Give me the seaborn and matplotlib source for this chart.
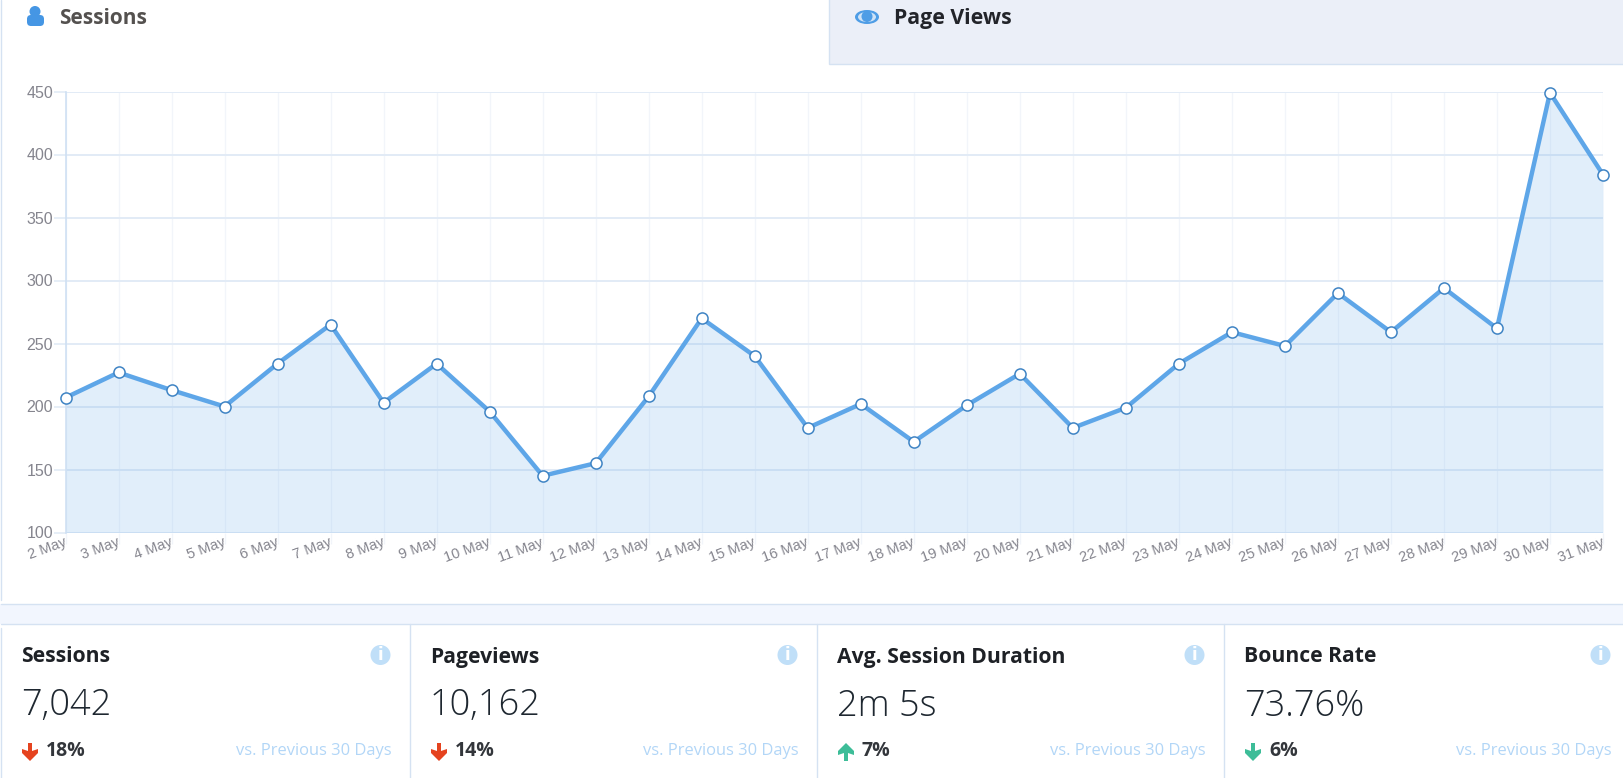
import matplotlib
matplotlib.use('Agg')
import matplotlib.pyplot as plt
from matplotlib.patches import Rectangle, Circle, Ellipse, Polygon, FancyBboxPatch
from matplotlib.transforms import ScaledTranslation
import pandas as pd
import seaborn as sns

# --------------------------
# Data
# --------------------------
days = ['2 May', '3 May', '4 May', '5 May', '6 May', '7 May', '8 May', '9 May', '10 May', '11 May',
        '12 May', '13 May', '14 May', '15 May', '16 May', '17 May', '18 May', '19 May', '20 May', '21 May',
        '22 May', '23 May', '24 May', '25 May', '26 May', '27 May', '28 May', '29 May', '30 May', '31 May']
sessions = [207, 227, 213, 200, 234, 265, 203, 234, 196, 145,
            155, 208, 270, 240, 183, 202, 172, 201, 226, 183,
            199, 234, 259, 248, 290, 259, 294, 262, 449, 384]
y_ticks = [100, 150, 200, 250, 300, 350, 400, 450]

card_titles = ['Sessions', 'Pageviews', 'Avg. Session Duration', 'Bounce Rate']
card_values = ['7,042', '10,162', '2m 5s', '73.76%']
card_changes = ['18%', '14%', '7%', '6%']
card_arrows = ['down', 'down', 'up', 'down']
card_colors = ['#e5431f', '#e5431f', '#3dbd98', '#3dbd98']

W, H = 1623, 778
BLUE = '#5ea6e8'
BORDER = '#d5e2f2'
UI_FONT = 'Open Sans'

sns.set_theme(style='white')
plt.rcParams['font.family'] = ['Liberation Sans', 'DejaVu Sans']

fig = plt.figure(figsize=(W / 100, H / 100), dpi=100, facecolor='white')

# --------------------------
# Page furniture, in pixel coordinates
# --------------------------
bg = fig.add_axes([0, 0, 1, 1])
bg.set_xlim(0, W)
bg.set_ylim(H, 0)
bg.axis('off')

bg.add_patch(Rectangle((0, 604), W, 20, fc='#f2f6fe', ec='none'))
bg.plot([1, W], [604, 604], color=BORDER, lw=1)
bg.plot([1, W], [624, 624], color=BORDER, lw=1)
bg.plot([1, 1], [0, 600], color=BORDER, lw=1)
bg.plot([1, 1], [628, H], color=BORDER, lw=1)

# Tabs
bg.add_patch(Rectangle((829, -2), W - 829 + 2, 66, fc='#ebeff8', ec=BORDER, lw=1))
bg.add_patch(Circle((35, 11.5), 5.5, fc='#4596e4', ec='none'))
bg.add_patch(FancyBboxPatch((27, 15), 17, 11, boxstyle='round,pad=0,rounding_size=4',
                            fc='#4596e4', ec='none', mutation_aspect=1))
bg.text(59, 18, 'Sessions', family=UI_FONT, weight='bold', fontsize=15, color='#54514f', va='center')
bg.add_patch(Ellipse((867, 17), 24, 14, fc='#4e9de6', ec='none'))
bg.add_patch(Ellipse((867, 17), 18, 10, fc='#cfe3f7', ec='none'))
bg.add_patch(Circle((867, 16.5), 5.5, fc='#4e9de6', ec='none'))
bg.text(894, 18, 'Page Views', family=UI_FONT, weight='bold', fontsize=15.3, color='#22242a', va='center')


def draw_arrow(x, y, direction, color):
    sign = 1 if direction == 'down' else -1
    pts = [(x - 2, y - 9 * sign), (x + 2, y - 9 * sign), (x + 2, y - 1 * sign), (x + 8, y - 3 * sign),
           (x + 8, y + 1 * sign), (x, y + 9 * sign), (x - 8, y + 1 * sign), (x - 8, y - 3 * sign),
           (x - 2, y - 1 * sign)]
    bg.add_patch(Polygon(pts, closed=True, fc=color, ec='none'))


# Stat cards
card_left = [1, 410, 817, 1224]
for i, title in enumerate(card_titles):
    left = card_left[i]
    text_x = left + 20
    right_x = card_left[i + 1] - 18 if i < 3 else W - 11
    if i > 0:
        bg.plot([left, left], [624, H], color=BORDER, lw=1)
    bg.text(text_x, 657, title, family=UI_FONT, weight='bold', fontsize=15.2, color='#1e2126', va='center')
    bg.text(text_x, 706, card_values[i], family=UI_FONT, weight='light', fontsize=26, color='#1e2730', va='center')
    draw_arrow(text_x + 9, 752, card_arrows[i], card_colors[i])
    bg.text(text_x + 25, 751, card_changes[i], family=UI_FONT, weight='bold', fontsize=14, color='#33363b', va='center')
    bg.text(right_x, 751, 'vs. Previous 30 Days', family=UI_FONT, fontsize=11.9, color='#b2d6f7', va='center', ha='right')
    bg.add_patch(Circle((right_x - 11.5, 655), 10, fc='#c0dff8', ec='none'))
    bg.text(right_x - 11.5, 655, 'i', family='DejaVu Sans', weight='bold', fontsize=12, color='white',
            va='center', ha='center')

# --------------------------
# Line chart
# --------------------------
ax_left, ax_right, ax_top, ax_bottom = 65.5, 1603, 91.5, 532.5
ax = fig.add_axes([ax_left / W, 1 - ax_bottom / H, (ax_right - ax_left) / W, (ax_bottom - ax_top) / H])
ax.patch.set_alpha(0)

df = pd.DataFrame({'day': range(len(days)), 'sessions': sessions})
ax.set_axisbelow(True)
ax.fill_between(df['day'], df['sessions'], 100, color=BLUE, alpha=0.18, lw=0, zorder=2)
sns.lineplot(data=df, x='day', y='sessions', ax=ax, color=BLUE, linewidth=3.2, zorder=3,
             marker='o', markersize=8, markerfacecolor='white', markeredgecolor='#3f84c4',
             markeredgewidth=1.1, clip_on=False, errorbar=None)

ax.set_xlim(0, len(days) - 1)
ax.set_ylim(100, 450)
ax.set_xlabel('')
ax.set_ylabel('')
ax.set_xticks(df['day'])
ax.set_xticklabels(days, rotation=20, ha='right', rotation_mode='anchor', fontsize=10.5, color='#85858e')
ax.set_yticks(y_ticks)
ax.set_yticklabels(y_ticks, fontsize=11.5, color='#85858e')
ax.grid(axis='y', color='#e2ebf6', lw=1.4)
ax.grid(axis='x', color='#f2f5fa', lw=1)
ax.tick_params(axis='y', length=9, width=1.2, color='#e2ebf6', pad=0, left=True)
ax.tick_params(axis='x', length=8, width=1, color='#f2f5fa', pad=-6, bottom=True)
# labels sit a little left of their ticks
nudge = ScaledTranslation(-2 / 100, 0, fig.dpi_scale_trans)
for label in ax.get_xticklabels():
    label.set_transform(label.get_transform() + nudge)
for side in ['top', 'right', 'bottom']:
    ax.spines[side].set_visible(False)
ax.spines['left'].set_color('#cfe0f3')
ax.spines['left'].set_linewidth(1.2)

fig.savefig('out.png', dpi=100, facecolor='white')
plt.close(fig)
